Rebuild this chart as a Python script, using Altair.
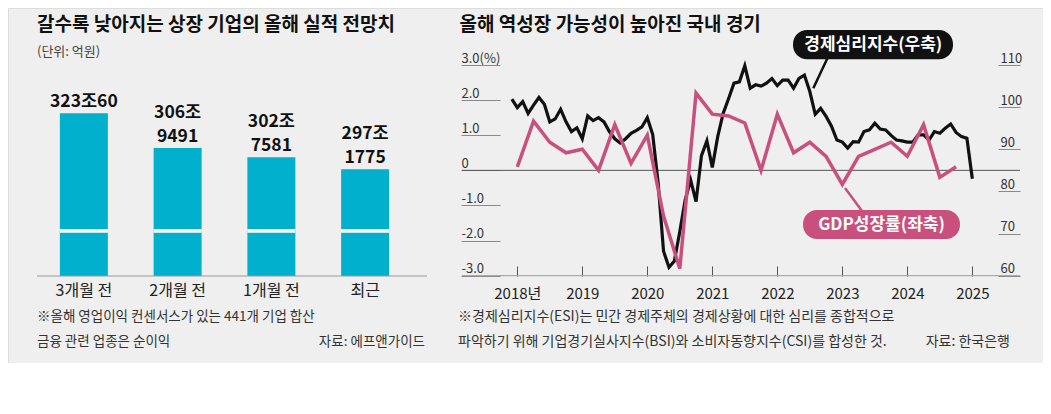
import altair as alt
import pandas as pd

FONT = "Noto Sans CJK KR"
BG = "#efefef"
CYAN = "#00b0cc"
PINK = "#c9507d"

# ---------------- data ----------------
bar_categories = ["3개월 전", "2개월 전", "1개월 전", "최근"]
bar_values = [3230060, 3069491, 3027581, 2971775]  # 억원
bar_label_top = ["", "306조", "302조", "297조"]
bar_label_bottom = ["323조60", "9491", "7581", "1775"]

gdp_quarters = ["2017Q4",
                "2018Q1", "2018Q2", "2018Q3", "2018Q4",
                "2019Q1", "2019Q2", "2019Q3", "2019Q4",
                "2020Q1", "2020Q2", "2020Q3", "2020Q4",
                "2021Q1", "2021Q2", "2021Q3", "2021Q4",
                "2022Q1", "2022Q2", "2022Q3", "2022Q4",
                "2023Q1", "2023Q2", "2023Q3", "2023Q4",
                "2024Q1", "2024Q2", "2024Q3"]
gdp_values = [0.1,
              1.4, 0.8, 0.5, 0.6,
              0.0, 1.3, 0.2, 1.0,
              -1.3, -2.8, 2.2, 1.6,
              1.55, 1.35, 0.0, 1.6,
              0.5, 0.8, 0.4, -0.4,
              0.4, 0.6, 0.8, 0.4,
              1.3, -0.2, 0.1]

esi_start = "2017-12-01"
esi_values = [101.9,
              99.9, 101.3, 98.5, 100.5, 102.3, 100.7, 96.5, 97.2, 99.5, 96.5, 94.2, 95.1,
              92.5, 97.9, 96.8, 97.5, 96.5, 94.2, 92.5, 91.5, 92.5, 93.8, 94.5, 95.3,
              97.5, 93.5, 82.0, 65.8, 62.0, 63.5, 70.5, 78.0, 82.7, 77.6, 88.5, 92.0,
              85.7, 93.0, 98.5, 102.0, 105.7, 106.0, 109.8, 104.5, 105.3, 105.0, 105.7, 106.8,
              105.1, 106.4, 106.4, 104.5, 106.8, 107.6, 103.7, 98.3, 99.7, 97.8, 95.5, 92.2,
              91.7, 90.3, 91.8, 91.7, 94.2, 94.6, 96.2, 94.8, 94.6, 93.3, 92.2, 92.0,
              91.7, 91.7, 93.4, 93.4, 92.2, 94.2, 93.8, 95.0, 96.0, 94.0, 93.0, 92.6,
              83.0]

year_ticks = [2018, 2019, 2020, 2021, 2022, 2023, 2024, 2025]
gdp_ticks = [-3, -2, -1, 0, 1, 2, 3]
esi_ticks = [60, 70, 80, 90, 100, 110]

# ---------------- tables ----------------
bars_df = pd.DataFrame({"cat": bar_categories, "v": bar_values,
                        "top": bar_label_top, "bottom": bar_label_bottom})

gdp_df = pd.DataFrame({"q": gdp_quarters, "v": gdp_values})
gdp_df["t"] = gdp_df["q"].str[:4].astype(int) + gdp_df["q"].str[-1].astype(int) / 4.0

esi_dates = pd.date_range(esi_start, periods=len(esi_values), freq="MS")
esi_df = pd.DataFrame({"d": esi_dates, "v": esi_values})
esi_df["t"] = esi_df["d"].dt.year + (esi_df["d"].dt.month - 1) / 12.0
esi_df = esi_df[["t", "v"]]

# ---------------- left panel ----------------
BAR_DOMAIN = [2479600, 3429800]  # truncated value axis (억원)
band = alt.Scale(domain=bar_categories, range=[29, 404], paddingInner=0.488, paddingOuter=0.244)
bar_y = alt.Scale(domain=BAR_DOMAIN, range=[268, 62], zero=False, nice=False)
cat_axis = alt.Axis(orient="bottom", offset=-87, ticks=False, tickSize=0, domain=False,
                    grid=False, labelPadding=6, labelFontSize=16, labelFont=FONT,
                    labelColor="#222", labelAngle=0, title=None)
X_CAT = alt.X("cat:N", scale=band, axis=cat_axis, sort=bar_categories)
Y_BAR = alt.Y("v:Q", scale=bar_y, axis=None)

bars = alt.Chart(bars_df).mark_bar(color=CYAN).encode(
    x=X_CAT, y=Y_BAR, y2=alt.datum(BAR_DOMAIN[0]),
)
breaks = alt.Chart(bars_df).mark_bar(color="white").encode(
    x=X_CAT, y=alt.value(221), y2=alt.value(224.7),
)
text_bottom = alt.Chart(bars_df).mark_text(
    font=FONT, fontSize=17.5, fontWeight="bold", color="#111", baseline="bottom",
    dy=-2, align="center",
).encode(x=X_CAT, y=Y_BAR, text="bottom:N")
text_top = alt.Chart(bars_df).mark_text(
    font=FONT, fontSize=17.5, fontWeight="bold", color="#111", baseline="bottom",
    dy=-26, align="center",
).encode(x=X_CAT, y=Y_BAR, text="top:N")
left_base = alt.Chart(pd.DataFrame({"a": [0]})).mark_rule(color="#9a9a9a", strokeWidth=1).encode(
    x=alt.value(29), x2=alt.value(419), y=alt.value(268)
)
left_group = alt.layer(bars, breaks, text_bottom, text_top, left_base)

# ---------------- right panel ----------------
xs = alt.Scale(domain=[2017.734, 2025.395], range=[492, 990], zero=False, nice=False)
gdp_scale = alt.Scale(domain=[-3, 3], range=[267.7, 57], zero=False, nice=False)
esi_scale = alt.Scale(domain=[60, 110], range=[267.7, 57], zero=False, nice=False)

year_axis = alt.Axis(orient="bottom", offset=-97, values=year_ticks, tickSize=10,
                     tickColor="#555", tickWidth=1, domain=False, grid=False,
                     labelPadding=10, labelFontSize=15, labelFont=FONT, labelColor="#222",
                     labelFlush=False, labelOverlap=False, title=None,
                     labelExpr="datum.value == 2018 ? '2018년' : '' + datum.value")
gdp_axis = alt.Axis(orient="left", offset=-492, values=gdp_ticks, tickSize=39,
                    tickColor="#8a8a8a", tickWidth=1, domain=False, grid=False,
                    labelAlign="left", labelBaseline="alphabetic", labelOffset=-3,
                    labelPadding=0, labelFontSize=13, labelFont=FONT, labelColor="#333",
                    labelFlush=False, labelOverlap=False, title=None,
                    labelExpr="datum.value == 3 ? '3.0(%)' : datum.value == 0 ? '0' : "
                              "(datum.value < 0 ? '-' : '') + format(abs(datum.value), '.1f')")
esi_axis = alt.Axis(orient="right", offset=-45, values=esi_ticks, tickSize=22,
                    tickColor="#8a8a8a", tickWidth=1, domain=False, grid=False,
                    labelAlign="left", labelBaseline="alphabetic", labelOffset=-3,
                    labelPadding=-20, labelFontSize=13, labelFont=FONT, labelColor="#333",
                    labelFlush=False, labelOverlap=False, title=None)

zero_rule = alt.Chart(pd.DataFrame({"v": [gdp_ticks[3]]})).mark_rule(color="#555", strokeWidth=1).encode(
    x=alt.value(454), x2=alt.value(1012),
    y=alt.Y("v:Q", scale=gdp_scale, axis=None),
)
base_rule = alt.Chart(pd.DataFrame({"v": [gdp_ticks[0]]})).mark_rule(color="#9a9a9a", strokeWidth=1).encode(
    x=alt.value(454), x2=alt.value(1012),
    y=alt.Y("v:Q", scale=gdp_scale, axis=None),
)
esi_line = alt.Chart(esi_df).mark_line(color="#111", strokeWidth=3.2).encode(
    x=alt.X("t:Q", scale=xs, axis=year_axis),
    y=alt.Y("v:Q", scale=esi_scale, axis=esi_axis),
)
gdp_line = alt.Chart(gdp_df).mark_line(color=PINK, strokeWidth=3.5).encode(
    x=alt.X("t:Q", scale=xs, axis=year_axis),
    y=alt.Y("v:Q", scale=gdp_scale, axis=gdp_axis),
)
right_group = alt.layer(zero_rule, base_rule, esi_line, gdp_line).resolve_scale(y="independent")


# ---------------- annotations ----------------
def note(s, x, y, size, color="#333", weight="normal", align="left"):
    return alt.Chart(pd.DataFrame({"s": [s]})).mark_text(
        font=FONT, fontSize=size, fontWeight=weight, color=color, align=align, baseline="middle"
    ).encode(x=alt.value(x), y=alt.value(y), text="s:N")


def box(x1, x2, y1, y2, color):
    return alt.Chart(pd.DataFrame({"a": [0]})).mark_rect(color=color, cornerRadius=14).encode(
        x=alt.value(x1), x2=alt.value(x2), y=alt.value(y1), y2=alt.value(y2)
    )


def pointer(x1, y1, x2, y2, color, w):
    return alt.Chart(pd.DataFrame({"a": [0]})).mark_rule(color=color, strokeWidth=w).encode(
        x=alt.value(x1), x2=alt.value(x2), y=alt.value(y1), y2=alt.value(y2)
    )


annotations = [
    note("갈수록 낮아지는 상장 기업의 올해 실적 전망치", 29, 17, 19, "#111", "bold"),
    note("(단위: 억원)", 29, 44, 13, "#444"),
    note("※올해 영업이익 컨센서스가 있는 441개 기업 합산", 29, 308.7, 13.5, "#333"),
    note("금융 관련 업종은 순이익", 29, 333.7, 13.5, "#333"),
    note("자료: 에프앤가이드", 417, 333.7, 13.5, "#333", align="right"),
    note("올해 역성장 가능성이 높아진 국내 경기", 451.6, 17, 19, "#111", "bold"),
    note("※경제심리지수(ESI)는 민간 경제주체의 경제상황에 대한 심리를 종합적으로", 450, 308.7, 14, "#333"),
    note("파악하기 위해 기업경기실사지수(BSI)와 소비자동향지수(CSI)를 합성한 것.", 450, 333.7, 14, "#333"),
    note("자료: 한국은행", 1002, 333.7, 14, "#333", align="right"),
    pointer(820, 49, 805.3, 80.3, "#111", 2.5),
    box(785, 945, 22, 51.3, "#111"),
    note("경제심리지수(우축)", 865.3, 36.7, 17, "white", "bold", align="center"),
    pointer(837, 180, 854, 203, PINK, 2.5),
    box(795, 952, 202, 231, PINK),
    note("GDP성장률(좌축)", 873.5, 216.5, 17, "white", "bold", align="center"),
]

chart = alt.layer(left_group, right_group, *annotations).resolve_scale(
    x="independent", y="independent"
).properties(
    width=1035, height=355,
    autosize=alt.AutoSizeParams(type="none"),
    padding=0,
    background=BG,
).configure_view(stroke=None).configure(font=FONT)

chart.save("out.html", embed_options={"renderer": "svg", "actions": False})
